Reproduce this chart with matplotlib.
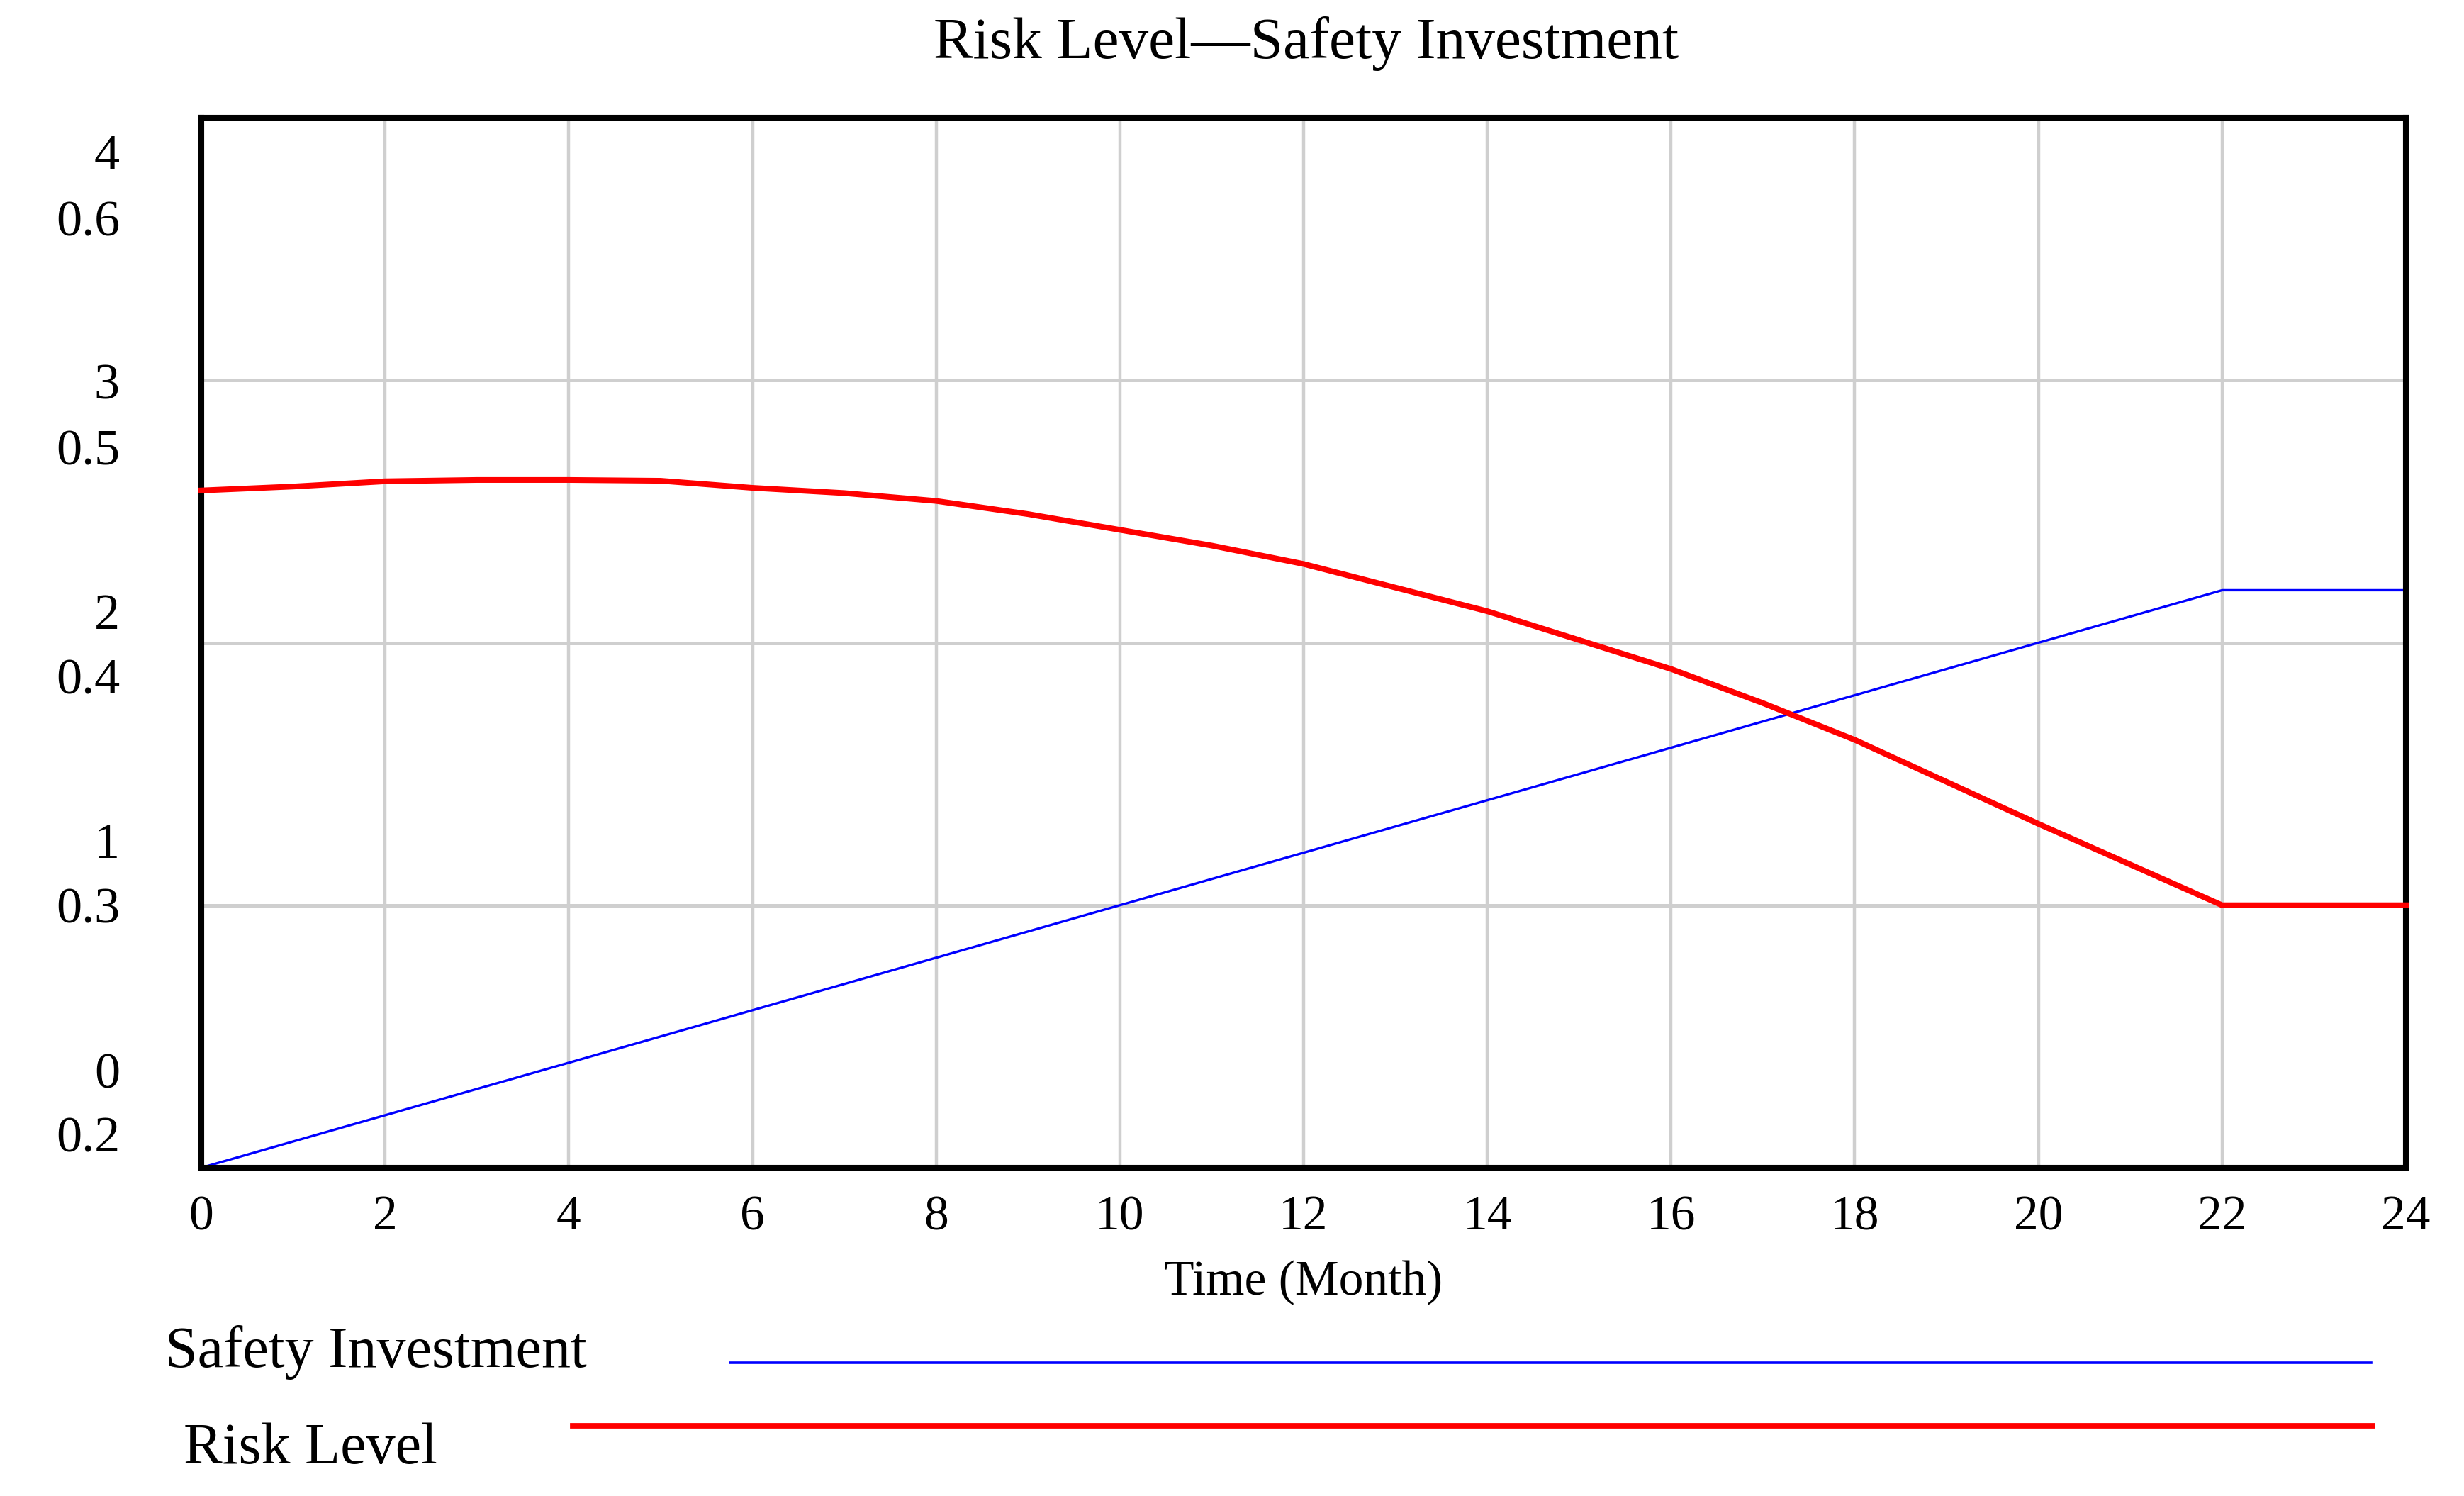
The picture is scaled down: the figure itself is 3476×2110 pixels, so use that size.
import matplotlib
matplotlib.use("Agg")
import matplotlib.pyplot as plt
from matplotlib.lines import Line2D
import numpy as np

plt.rcParams['font.family'] = ['Liberation Serif', 'DejaVu Serif']

# ---- data ----
months = list(range(0, 25))
safety_investment = [0.0, 0.1, 0.2, 0.3, 0.4, 0.5, 0.6, 0.7, 0.8, 0.9, 1.0, 1.1, 1.2,
                     1.3, 1.4, 1.5, 1.6, 1.7, 1.8, 1.9, 2.0, 2.1, 2.2, 2.2, 2.2]
risk_level = [0.458, 0.4595, 0.4615, 0.462, 0.462, 0.4617, 0.459, 0.457, 0.454, 0.449,
              0.443, 0.437, 0.430, 0.421, 0.412, 0.401, 0.390, 0.377, 0.363, 0.347,
              0.331, 0.3155, 0.300, 0.300, 0.300]
x_ticks = list(range(0, 25, 2))
safety_ticks = [0, 1, 2, 3, 4]
risk_ticks = [0.2, 0.3, 0.4, 0.5, 0.6]
title = "Risk Level\u2014Safety Investment"
x_label = "Time (Month)"
series_names = ["Safety Investment", "Risk Level"]

W, H, DPI = 3476, 2110, 200
fig = plt.figure(figsize=(W / DPI, H / DPI), dpi=DPI)
fig.patch.set_facecolor("white")

left, right, top, bottom = 284 / W, 3394 / W, 1 - 166 / H, 1 - 1647 / H
ax = fig.add_axes([left, bottom, right - left, top - bottom])
ax.set_xlim(0, 24)
ax.set_ylim(0, 4)
ax2 = ax.twinx()
ax2.set_ylim(0.2, 0.6)

grid_c = "#cfcfcf"
for xv in x_ticks[1:-1]:
    ax.axvline(xv, color=grid_c, lw=1.6, zorder=0)
for yv in safety_ticks[1:-1]:
    ax.axhline(yv, color=grid_c, lw=1.8, zorder=0)

ax.plot(months, safety_investment, color="#0000ff", lw=1.2, zorder=3, clip_on=False)
ax2.plot(months, risk_level, color="#ff0000", lw=2.9, zorder=3, clip_on=False)

ax.set_xticks(x_ticks)
ax.set_xticklabels([str(v) for v in x_ticks], fontsize=25)
ax.tick_params(axis="x", length=0, pad=14)
ax.set_yticks([])
ax2.set_yticks([])
for a in (ax, ax2):
    for s in a.spines.values():
        s.set_linewidth(2.9)
        s.set_color("black")
ax.set_xlabel(x_label, fontsize=25, labelpad=10)

# stacked y labels (Vensim style)
xt = 169 / W
dy = 7 / H
for v in safety_ticks:
    yfrac = 0.0928 + 0.2186 * v
    ax.text(xt, bottom + yfrac * (top - bottom) - dy, str(v), transform=fig.transFigure,
            ha="right", va="center", fontsize=26)
for r in risk_ticks:
    yfrac = 0.0314 + 2.182 * (r - 0.2)
    ax.text(xt, bottom + yfrac * (top - bottom) - dy, f"{r:.1f}", transform=fig.transFigure,
            ha="right", va="center", fontsize=26)

fig.text((left + right) / 2 + 0.001, 1 - 62 / H, title, ha="center", va="center", fontsize=30)

# legend
fig.text(233 / W, 1 - 1907 / H, series_names[0], ha="left", va="center", fontsize=29.5)
fig.text(259 / W, 1 - 2044 / H, series_names[1], ha="left", va="center", fontsize=29.5)
fig.add_artist(Line2D([1030 / W, 3345 / W], [1 - 1922 / H, 1 - 1922 / H],
                      color="#0000ff", lw=1.3, transform=fig.transFigure))
fig.add_artist(Line2D([808 / W, 3347 / W], [1 - 2011 / H, 1 - 2011 / H],
                      color="#ff0000", lw=2.8, transform=fig.transFigure))

fig.savefig("out.png", dpi=DPI, facecolor="white")
